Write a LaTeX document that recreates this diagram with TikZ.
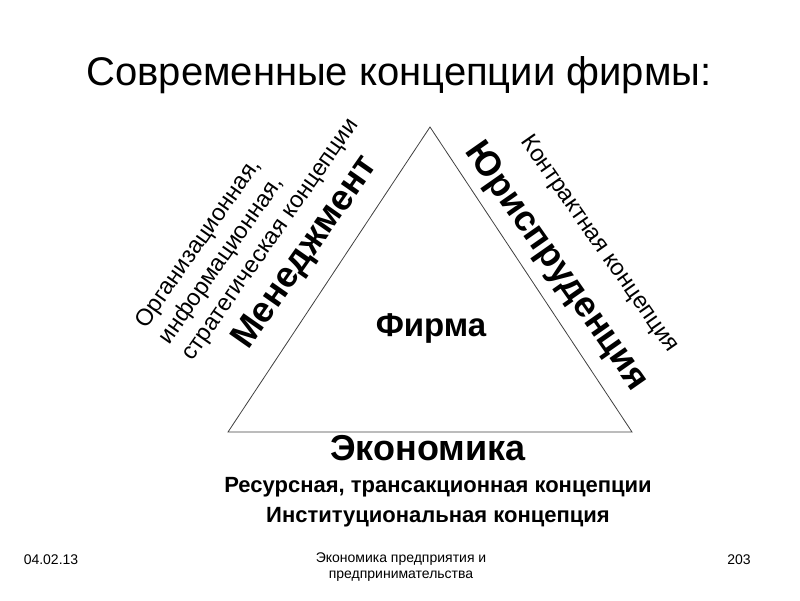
\documentclass[tikz,border=0pt]{standalone}
\usepackage{fontspec}
\setmainfont{Liberation Sans}
\usetikzlibrary{positioning}

\newcommand{\fs}[1]{\fontsize{#1}{1.2\dimexpr#1pt\relax}\selectfont}

\begin{document}
\begin{tikzpicture}[
            x = 1pt, y = -1pt, % pixel grid, y downwards
            every node/.style = {inner sep = 0pt, align = center},
            side/.style = {line width = 0.8pt, draw = black!75}
        ]

        \tikzstyle{field}=[font = \bfseries\fs{36}]
        \tikzstyle{concept}=[font = \fontsize{23.5}{28.5}\selectfont, text depth = 0pt]
        \tikzstyle{footer}=[font = \fs{14}]

        \useasboundingbox (0,0) rectangle (800,600);

        \node[font = \fs{40}] (title) at (399,75) {Современные концепции фирмы:};

        % triangle
        \coordinate (apex) at (430,127);
        \coordinate (left) at (228,432);
        \coordinate (right) at (632,432);
        \draw[side] (apex) -- (left) -- (right) -- cycle;

        \node[font = \bfseries\fs{33}] (firm) at (431,328) {Фирма};

        % sides
        \node[field, rotate = 55] (mgmt) at (306,253) {Менеджмент};
        \node[field, rotate = -55] (law) at (556,267) {Юриспруденция};
        \node[field] (econ) at (428,448) {Экономика};

        \node[concept, rotate = 55, align = left, anchor = south west] (mgmtc) at (193,362)
            {Организационная,\\ информационная,\\ стратегическая концепции};
        \node[concept, rotate = -55] (lawc) at (601,243) {Контрактная концепция};
        \node[font = \bfseries\fs{22}] (econa) at (438,487)
            {Ресурсная, трансакционная концепции};
        \node[font = \bfseries\fs{22}, below = 10pt of econa] (econb)
            {Институциональная концепция};

        % footer
        \node[footer] (date) at (51,560) {04.02.13};
        \node[footer] (course) at (401,567) {Экономика предприятия и\\ предпринимательства};
        \node[footer] (page) at (739,560) {203};

    \end{tikzpicture}
\end{document}
